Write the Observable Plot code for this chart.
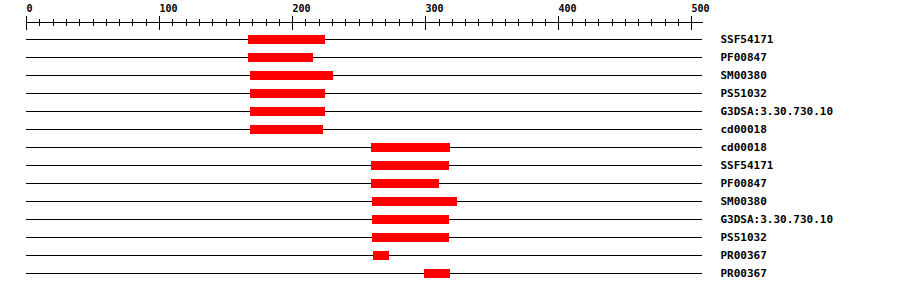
<!DOCTYPE html>
<html>
<head>
<meta charset="utf-8">
<script src="https://cdn.jsdelivr.net/npm/d3@7"></script>
<script src="https://cdn.jsdelivr.net/npm/@observablehq/plot@0.6"></script>
<style>
  html, body { margin: 0; padding: 0; background: #fff; }
  #chart svg { display: block; }
</style>
</head>
<body>
<div id="chart"></div>
<script>
// Domain hits along the protein sequence, one row per hit.
const seqLength = 508;
const labels = [
  "SSF54171", "PF00847", "SM00380", "PS51032", "G3DSA:3.30.730.10", "cd00018",
  "cd00018", "SSF54171", "PF00847", "SM00380", "G3DSA:3.30.730.10", "PS51032",
  "PR00367", "PR00367"
];
const starts = [167, 167, 168, 168, 168, 168, 259, 259, 259, 260, 260, 260, 261, 299];
const ends   = [225, 216, 231, 225, 225, 223, 319, 318, 310, 324, 318, 318, 273, 319];

// Ruler ticks
const majorTicks = [0, 100, 200, 300, 400, 500];
const minorTicks = d3.range(0, 501, 10);

const rows = labels.map((label, i) => ({row: i, label, start: starts[i], end: ends[i]}));
const rowIds = rows.map((d) => d.row);

const font = "'DejaVu Sans Mono', 'Liberation Mono', monospace";

const chart = Plot.plot({
  width: 900,
  height: 292,
  marginLeft: 26,
  marginRight: 198,
  marginTop: 22,
  marginBottom: 10,
  style: {fontFamily: font, background: "#fff", color: "#000"},
  x: {domain: [0, seqLength], round: true, label: null},
  y: {type: "band", domain: rowIds, range: [30, 282], padding: 0, axis: null},
  marks: [
    // ruler baseline
    Plot.frame({anchor: "top", stroke: "#000"}),
    // minor ruler ticks
    Plot.axisX(minorTicks, {anchor: "top", tickSize: 7, dy: 3, fill: "none", tickFormat: () => "", label: null}),
    // major ruler ticks with labels
    Plot.axisX(majorTicks, {
      anchor: "top", tickSize: 14, dy: 7, tickPadding: 4, textAnchor: "start",
      fontSize: 10, fontWeight: "bold", letterSpacing: "0.3px", label: null
    }),
    // sequence lines
    Plot.ruleY(rows, {y: "row", x1: 0, x2: seqLength, stroke: "#000"}),
    // domain hits
    Plot.barX(rows, {y: "row", x1: "start", x2: "end", fill: "#ff0000", insetTop: 5, insetBottom: 4}),
    // hit names
    Plot.text(rows, {
      y: "row", text: "label", frameAnchor: "right", dx: 18, dy: 0, textAnchor: "start",
      fontSize: 11, fontWeight: "bold", letterSpacing: "0.3px", fill: "#000"
    })
  ]
});

document.getElementById("chart").append(chart);
</script>
</body>
</html>
